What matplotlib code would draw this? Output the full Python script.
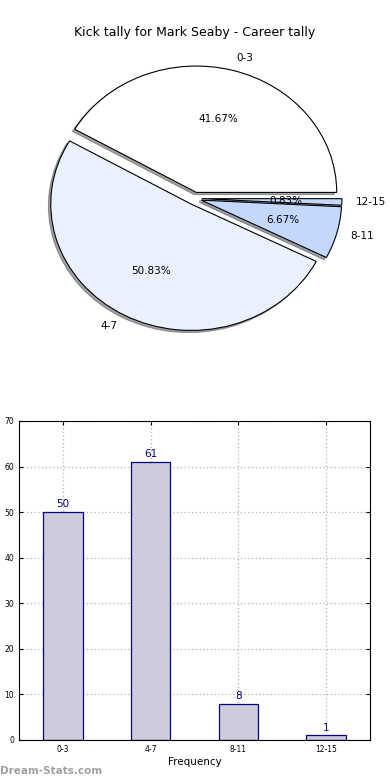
import matplotlib
matplotlib.use("Agg")
import matplotlib.pyplot as plt

title = "Kick tally for Mark Seaby - Career tally"
categories = ["0-3", "4-7", "8-11", "12-15"]
counts = [50, 61, 8, 1]
pie_colors = ["#ffffff", "#eaf1fe", "#c4d8fe", "#c4d8fe"]
explode = [0.05, 0.05, 0.05, 0.05]

fig = plt.figure(figsize=(3.9, 7.8), dpi=100)

# pie (top)
ax1 = fig.add_axes([0.0487, 0.543, 0.9, 0.405])
wedges, texts, autotexts = ax1.pie(
    counts, labels=categories, colors=pie_colors, explode=explode,
    autopct="%.2f%%", shadow={"ox": -0.012, "oy": -0.012}, startangle=0,
    wedgeprops={"edgecolor": "black", "linewidth": 0.8},
    textprops={"fontsize": 7.5},
)
ax1.set_aspect("auto")
ax1.set_xlim(-1.25, 1.25)
ax1.set_ylim(-1.25, 1.25)
ax1.set_title(title, fontsize=9, pad=3)

# bar chart (bottom)
ax2 = fig.add_axes([0.0487, 0.0513, 0.9, 0.409])
x = range(len(categories))
bars = ax2.bar(x, counts, width=0.45, color="#ccccdd", edgecolor="#000080", linewidth=0.9, zorder=2)
for xi, c in zip(x, counts):
    ax2.text(xi, c + 0.6, str(c), ha="center", va="bottom", color="#000080", fontsize=7.5)
ax2.set_xlim(-0.5, 3.5)
ax2.set_ylim(0, 70)
ax2.set_yticks(range(0, 71, 10))
ax2.set_xticks(list(x))
ax2.set_xticklabels(categories)
ax2.tick_params(labelsize=5.5, direction="in", top=True, right=True, length=3)
ax2.grid(True, linestyle=(0, (1, 2)), color="#b0b0b0", linewidth=0.9, zorder=0)
ax2.set_xlabel("Frequency", fontsize=7.5, labelpad=2)

fig.text(0.0, 0.005, "Dream-Stats.com", color="#a0a0a0", fontsize=7.5, fontweight="bold", ha="left", va="bottom")

fig.savefig("out.png", dpi=100)
